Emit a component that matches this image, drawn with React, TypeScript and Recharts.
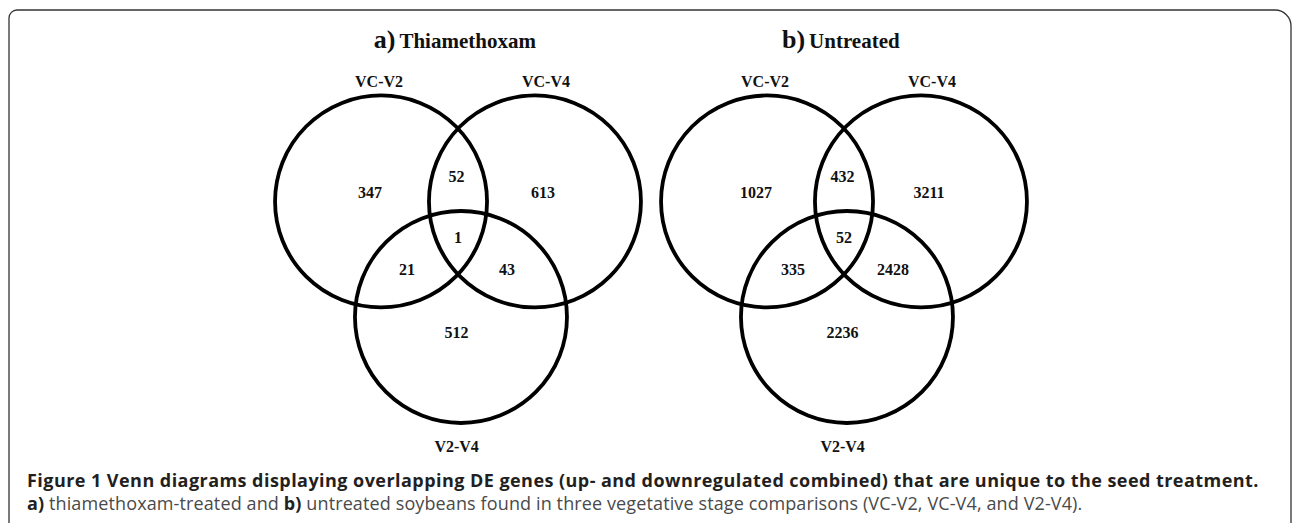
import React from 'react';
import { ScatterChart, Scatter, XAxis, YAxis, ReferenceArea } from 'recharts';

// ---- data ----
const setNames = ['VC-V2', 'VC-V4', 'V2-V4'];
// circle centres in Venn units (circle radius = 1, y pointing up)
const circleX = [-0.726, 0.726, 0.028];
const circleY = [0.458, 0.458, -0.632];
const circleR = 1;
// set label anchors
const setLabelX = [-0.745, 0.83, -0.013];
const setLabelY = [1.585, 1.585, -1.858];

// regions of the diagram
const regionNames = ['VC-V2 only', 'VC-V2 & VC-V4', 'VC-V4 only', 'all three', 'VC-V2 & V2-V4', 'VC-V4 & V2-V4', 'V2-V4 only'];
const regionX = [-0.83, -0.013, 0.802, 0.0, -0.481, 0.462, -0.013];
const regionY = [0.538, 0.689, 0.538, 0.113, -0.189, -0.189, -0.783];

const thiamethoxamCounts = [347, 52, 613, 1, 21, 43, 512];
const untreatedCounts = [1027, 432, 3211, 52, 335, 2428, 2236];

const panelLetters = ['a)', 'b)'];
const panelTitles = ['Thiamethoxam', 'Untreated'];
const titleX = -0.03;
const titleY = 1.953;

// ---- layout ----
const UNIT = 106; // px per Venn unit
const CW = 424;
const CH = 468;
const SERIF = '"Liberation Serif", "Times New Roman", serif';

function VennPanel({ counts, letter, title, left, top }: { counts: number[]; letter: string; title: string; left: number; top: number }) {
  const xd: [number, number] = [-CW / 2 / UNIT, CW / 2 / UNIT];
  const yd: [number, number] = [-CH / 2 / UNIT, CH / 2 / UNIT];
  const regionData = regionX.map((x, i) => ({ x, y: regionY[i], count: counts[i], name: regionNames[i] }));
  const labelData = setNames.map((n, i) => ({ x: setLabelX[i], y: setLabelY[i], name: n }));
  const titleData = [{ x: titleX, y: titleY, letter, title }];
  return (
    <div style={{ position: 'absolute', left, top, width: CW, height: CH }}>
      <ScatterChart width={CW} height={CH} margin={{ top: 0, right: 0, bottom: 0, left: 0 }}>
        <XAxis type="number" dataKey="x" domain={xd} hide allowDataOverflow />
        <YAxis type="number" dataKey="y" domain={yd} hide allowDataOverflow />
        {circleX.map((cx, i) => (
          <ReferenceArea
            key={setNames[i]}
            x1={cx - circleR}
            x2={cx + circleR}
            y1={circleY[i] - circleR}
            y2={circleY[i] + circleR}
            ifOverflow="visible"
            shape={(p: any) => (
              <ellipse
                cx={p.x + p.width / 2}
                cy={p.y + p.height / 2}
                rx={Math.abs(p.width) / 2}
                ry={Math.abs(p.height) / 2}
                fill="none"
                stroke="#000"
                strokeWidth={3.8}
              />
            )}
          />
        ))}
        <Scatter
          data={regionData}
          isAnimationActive={false}
          shape={(p: any) => (
            <text x={p.cx} y={p.cy} dy="0.34em" textAnchor="middle" fontFamily={SERIF} fontWeight="bold" fontSize={16} fill="#111">
              {p.payload.count}
            </text>
          )}
        />
        <Scatter
          data={labelData}
          isAnimationActive={false}
          shape={(p: any) => (
            <text x={p.cx} y={p.cy} dy="0.34em" textAnchor="middle" fontFamily={SERIF} fontWeight="bold" fontSize={16} fill="#111">
              {p.payload.name}
            </text>
          )}
        />
        <Scatter
          data={titleData}
          isAnimationActive={false}
          shape={(p: any) => (
            <text x={p.cx} y={p.cy} dy="0.34em" textAnchor="middle" fontFamily={SERIF} fontWeight="bold" fill="#111">
              <tspan fontSize={26}>{p.payload.letter}</tspan>
              <tspan fontSize={21} dx={4}>{p.payload.title}</tspan>
            </text>
          )}
        />
      </ScatterChart>
    </div>
  );
}

const SANS = '"Open Sans", "Noto Sans", sans-serif';

export default function App() {
  return (
    <div style={{ position: 'absolute', left: 0, top: 0, width: 1292, height: 523, overflow: 'hidden', background: '#fff' }}>
      <svg width={1292} height={523} style={{ position: 'absolute', left: 0, top: 0 }}>
        <path d="M9 560 V18 A8 8 0 0 1 17 10 H1275 A16 16 0 0 1 1291 26 V560" fill="none" stroke="#333" strokeWidth={1.3} />
      </svg>
      <VennPanel counts={thiamethoxamCounts} letter={panelLetters[0]} title={panelTitles[0]} left={458 - CW / 2} top={250 - CH / 2} />
      <VennPanel counts={untreatedCounts} letter={panelLetters[1]} title={panelTitles[1]} left={844 - CW / 2} top={250 - CH / 2} />
      <div style={{ position: 'absolute', left: 27, top: 468, whiteSpace: 'nowrap', fontFamily: SANS, fontSize: 18, letterSpacing: '0.45px', lineHeight: '24px', fontWeight: 700, color: '#231f20' }}>
        Figure 1 Venn diagrams displaying overlapping DE genes (up- and downregulated combined) that are unique to the seed treatment.
      </div>
      <div style={{ position: 'absolute', left: 27, top: 491, whiteSpace: 'nowrap', fontFamily: SANS, fontSize: 18, letterSpacing: '0.12px', lineHeight: '24px', fontWeight: 400, color: '#4a4a4a' }}>
        <b style={{ color: '#231f20' }}>a)</b> thiamethoxam-treated and <b style={{ color: '#231f20' }}>b)</b> untreated soybeans found in three vegetative stage comparisons (VC-V2, VC-V4, and V2-V4).
      </div>
    </div>
  );
}
